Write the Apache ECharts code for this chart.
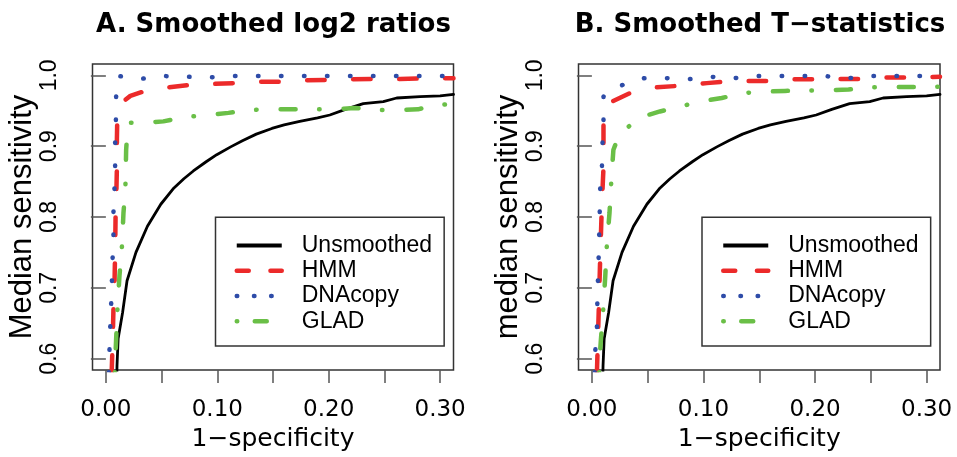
<!DOCTYPE html>
<html>
<head>
<meta charset="utf-8">
<script src="https://cdn.jsdelivr.net/npm/echarts@6/dist/echarts.min.js"></script>
<style>html,body{margin:0;padding:0;background:#fff}#c{width:957px;height:457px}</style>
</head>
<body>
<div id="c"></div>
<script>
// ---- data ----
const titles = ['A. Smoothed log2 ratios', 'B. Smoothed T\u2212statistics'];
const yTitles = ['Median sensitivity', 'median sensitivity'];
const xTitle = '1\u2212specificity';
const seriesNames = ['Unsmoothed', 'HMM', 'DNAcopy', 'GLAD'];
const xTicks = [0, 0.05, 0.10, 0.15, 0.20, 0.25, 0.30];
const xTickLabels = [0, 0.10, 0.20, 0.30];
const yTicks = [0.6, 0.7, 0.8, 0.9, 1.0];

// Unsmoothed (same in both panels)
const unsmoothed = [[0.0098,0.575],[0.0100,0.59],[0.011,0.628],[0.015,0.665],[0.019,0.71],[0.027,0.75],[0.0373,0.787],[0.0493,0.818],[0.0611,0.841],[0.070,0.854],[0.0785,0.865],[0.090,0.878],[0.0995,0.888],[0.112,0.899],[0.123,0.908],[0.135,0.917],[0.149,0.925],[0.160,0.930],[0.174,0.935],[0.190,0.940],[0.201,0.944],[0.215,0.952],[0.231,0.960],[0.249,0.963],[0.261,0.968],[0.282,0.970],[0.300,0.971],[0.312,0.973]];

// Panel A
const hmmA = [[0.0052,0.58],[0.0062,0.63],[0.0068,0.67],[0.0078,0.71],[0.0084,0.76],[0.0087,0.80],[0.0095,0.84],[0.0099,0.87],[0.0099,0.91],[0.0102,0.935],[0.012,0.955],[0.0155,0.963],[0.022,0.971],[0.0334,0.977],[0.0558,0.983],[0.0755,0.9865],[0.098,0.988],[0.118,0.989],[0.14,0.991],[0.159,0.991],[0.18,0.993],[0.21,0.994],[0.241,0.995],[0.264,0.995],[0.304,0.996],[0.312,0.996]];
const dnacopyA = [[0.0028,0.58],[0.0032,0.61],[0.0039,0.643],[0.0047,0.675],[0.0054,0.708],[0.006,0.74],[0.0068,0.773],[0.0068,0.806],[0.0077,0.839],[0.0083,0.871],[0.0083,0.904],[0.009,0.937],[0.0092,0.970],[0.0113,0.999],[0.0316,0.995],[0.0516,0.999],[0.0928,0.997],[0.11,0.999],[0.312,0.999]];
const gladA = [[0.008,0.58],[0.0083,0.595],[0.0092,0.627],[0.0104,0.67],[0.0122,0.717],[0.0145,0.76],[0.0158,0.806],[0.0175,0.84],[0.0182,0.895],[0.0195,0.925],[0.0215,0.933],[0.034,0.933],[0.0516,0.935],[0.071,0.941],[0.091,0.944],[0.11,0.947],[0.129,0.951],[0.147,0.952],[0.205,0.952],[0.223,0.954],[0.241,0.951],[0.262,0.951],[0.28,0.952],[0.293,0.957],[0.312,0.960]];

// Panel B
const hmmB = [[0.0045,0.58],[0.006,0.66],[0.0074,0.74],[0.009,0.82],[0.0104,0.87],[0.0104,0.93],[0.012,0.955],[0.018,0.963],[0.0343,0.975],[0.058,0.983],[0.076,0.985],[0.103,0.989],[0.118,0.991],[0.139,0.992],[0.157,0.992],[0.18,0.9945],[0.198,0.9945],[0.222,0.995],[0.24,0.995],[0.264,0.997],[0.282,0.997],[0.312,0.998]];
const dnacopyB = [[0.0025,0.58],[0.003,0.61],[0.0045,0.643],[0.005,0.69],[0.006,0.74],[0.0065,0.773],[0.007,0.806],[0.0074,0.839],[0.009,0.871],[0.0095,0.904],[0.0104,0.937],[0.0104,0.970],[0.015,0.979],[0.0277,0.9865],[0.0468,0.996],[0.067,0.996],[0.0865,0.9945],[0.106,0.998],[0.127,0.996],[0.147,0.999],[0.208,0.999],[0.23,0.996],[0.25,0.999],[0.312,0.999]];
const gladB = [[0.0065,0.58],[0.0068,0.597],[0.008,0.625],[0.0104,0.675],[0.012,0.717],[0.0134,0.76],[0.0158,0.806],[0.017,0.84],[0.018,0.867],[0.0193,0.895],[0.0235,0.912],[0.0283,0.921],[0.0417,0.940],[0.061,0.949],[0.079,0.956],[0.097,0.963],[0.1164,0.968],[0.136,0.975],[0.154,0.977],[0.173,0.978],[0.21,0.979],[0.23,0.980],[0.249,0.983],[0.312,0.984]];

// ---- styles ----
const colors = ['#000000', '#EC2A2A', '#2E4CA8', '#6ABF47'];
const lineStyles = [
  {width: 2.8, type: 'solid', cap: 'round', join: 'round'},
  {width: 4.5, type: [17.5, 28.5], cap: 'round', join: 'round'},
  {width: 4.5, type: [0.5, 22.5], cap: 'round', join: 'round'},
  {width: 4.5, type: [0.5, 24, 15, 23.5], cap: 'round', join: 'round'}
];
const legendLineStyles = [
  {width: 4, type: 'solid', cap: 'butt'},
  {width: 4.5, type: [12, 21.7], cap: 'round'},
  {width: 4.5, type: [0.5, 16.7], cap: 'round'},
  {width: 4.5, type: [0.5, 17.5, 12, 17.5], cap: 'round'}
];
const panels = [[unsmoothed, hmmA, dnacopyA, gladA], [unsmoothed, hmmB, dnacopyB, gladB]];
const grids = [
  {left: 92.5, top: 64, width: 361, height: 307},
  {left: 578.5, top: 64, width: 361.5, height: 307}
];
const titleCenters = [273.5, 760];
const legendLefts = [215.5, 702];

const tickColor = '#555';
const option = {
  animation: false,
  backgroundColor: '#fff',
  title: titles.map((t, i) => ({
    text: t, left: titleCenters[i], top: 12, textAlign: 'center', padding: 0,
    textStyle: {fontFamily: 'DejaVu Sans', fontWeight: 'bold', fontSize: 26, color: '#000'}
  })),
  grid: grids.map(g => Object.assign({show: true, borderColor: '#333', borderWidth: 1.5, backgroundColor: 'transparent', containLabel: false}, g)),
  xAxis: grids.map((g, i) => ({
    type: 'value', gridIndex: i, min: -0.012, max: 0.312,
    name: xTitle, nameLocation: 'middle', nameGap: 57,
    nameTextStyle: {fontFamily: 'DejaVu Sans', fontSize: 25, color: '#000'},
    axisLine: {show: false},
    splitLine: {show: false},
    axisTick: {show: true, length: 13, customValues: xTicks, lineStyle: {color: tickColor, width: 1.5}},
    axisLabel: {show: true, customValues: xTickLabels, margin: 29, formatter: v => v.toFixed(2),
      fontFamily: 'DejaVu Sans', fontSize: 23, color: '#000'}
  })),
  yAxis: grids.map((g, i) => ({
    type: 'value', gridIndex: i, min: 0.584, max: 1.016,
    name: yTitles[i], nameLocation: 'middle', nameGap: 54,
    nameTextStyle: {fontFamily: 'Liberation Sans', fontSize: 31, color: '#000'},
    axisLine: {show: false},
    splitLine: {show: false},
    axisTick: {show: true, length: 15, customValues: yTicks, lineStyle: {color: tickColor, width: 1.5}},
    axisLabel: {show: true, customValues: yTicks, margin: 31, rotate: 90, formatter: v => v.toFixed(1),
      fontFamily: 'Liberation Sans', fontSize: 23, color: '#000'}
  })),
  legend: legendLefts.map(l => ({
    orient: 'vertical', left: l, top: 217.3,
    padding: [15.5, 12, 12, 19],
    itemWidth: 45, itemHeight: 14, itemGap: 0,
    borderColor: '#333', borderWidth: 1.5, backgroundColor: '#fff',
    selectedMode: false,
    textStyle: {fontFamily: 'Liberation Sans', fontSize: 23, color: '#000', lineHeight: 25.3, padding: [0, 0, 0, 15]},
    data: seriesNames.map((n, k) => ({
      name: n,
      lineStyle: Object.assign({color: colors[k]}, legendLineStyles[k]),
      itemStyle: {opacity: 0}
    }))
  })),
  series: []
};
panels.forEach((p, i) => {
  p.forEach((d, k) => {
    option.series.push({
      type: 'line', name: seriesNames[k], xAxisIndex: i, yAxisIndex: i,
      data: d, symbol: 'none', showSymbol: false, smooth: false,
      lineStyle: Object.assign({color: colors[k]}, lineStyles[k]),
      itemStyle: {color: colors[k]},
      z: 2 + k, silent: true
    });
  });
});
const chart = echarts.init(document.getElementById('c'), null, {renderer: 'canvas'});
chart.setOption(option);
</script>
</body>
</html>
